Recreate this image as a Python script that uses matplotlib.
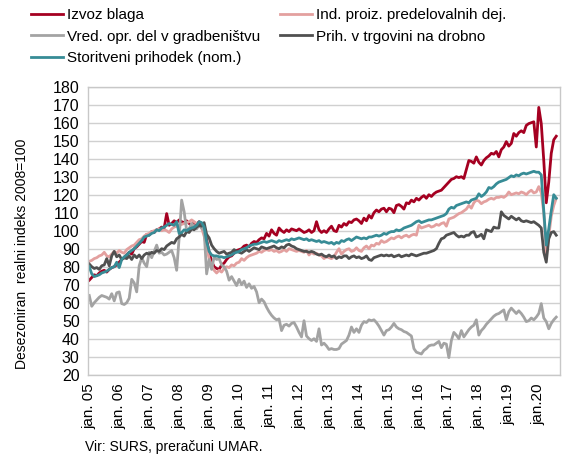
import numpy as np
import matplotlib.pyplot as plt

# monthly values jan 2005 - aug 2020 (2008=100)
izvoz = [
    72.5, 74.0, 75.5, 75.0, 76.5, 77.5, 78.0, 77.0, 78.5, 79.5, 80.0, 81.0,  # 2005
    82.5, 84.0, 85.0, 86.5, 88.0, 87.0, 90.0, 91.0, 92.5, 94.0, 93.5, 98.0,  # 2006
    97.5, 99.5, 99.0, 100.5, 101.0, 102.0, 101.5, 109.5, 103.0, 104.0, 105.5, 104.5,  # 2007
    106.0, 105.0, 104.5, 105.5, 104.0, 103.0, 104.5, 103.5, 105.0, 103.0, 101.5, 95.0,  # 2008
    88.0, 83.0, 80.0, 79.0, 78.5, 81.0, 82.0, 84.0, 85.5, 86.0, 87.5, 89.0,  # 2009
    89.5, 90.0, 91.5, 92.0, 91.0, 93.0, 94.0, 93.5, 95.0, 96.0, 95.5, 98.5,  # 2010
    97.0, 100.5, 98.5, 97.5, 101.5, 100.0, 99.0, 100.5, 99.5, 101.0, 100.5, 100.0,  # 2011
    101.0, 100.0, 99.0, 99.5, 100.5, 99.0, 100.0, 105.0, 100.5, 99.0, 100.0, 99.0,  # 2012
    101.0, 102.5, 100.0, 99.5, 103.0, 102.0, 104.0, 103.0, 105.0, 104.5, 106.0, 106.5,  # 2013
    105.5, 104.0, 107.0, 105.5, 108.5, 107.0, 110.0, 111.5, 110.5, 112.0, 112.5, 110.5,  # 2014
    112.5, 112.0, 110.0, 114.0, 114.5, 113.5, 112.0, 115.5, 115.0, 117.0, 116.0, 118.0,  # 2015
    117.0, 118.5, 119.5, 118.0, 120.0, 119.0, 120.5, 121.5, 122.0, 122.5, 124.0, 125.5,  # 2016
    127.0, 128.5, 129.0, 130.0, 129.5, 130.0, 129.0, 134.0, 139.0, 138.5, 137.5, 141.0,  # 2017
    138.0, 136.5, 139.0, 140.5, 141.5, 143.0, 142.5, 144.0, 141.0, 145.0, 146.5, 149.5,  # 2018
    147.0, 148.5, 154.0, 152.5, 154.5, 155.5, 154.5, 158.5, 159.5, 160.0, 160.5, 146.5,  # 2019
    168.5, 159.5, 139.0, 115.5, 127.0, 143.0, 150.5, 152.5,  # 2020
]

ind_proiz = [
    83.0, 83.5, 84.5, 85.0, 86.0, 86.5, 88.0, 86.0, 85.5, 87.0, 88.5, 87.5,  # 2005
    89.0, 88.0, 87.5, 89.5, 90.5, 91.5, 92.0, 93.5, 95.0, 95.5, 97.0, 98.0,  # 2006
    98.5, 99.5, 100.0, 100.5, 101.0, 100.0, 100.5, 100.0, 99.0, 101.0, 102.0, 102.5,  # 2007
    103.0, 103.5, 104.0, 104.5, 105.0, 106.0, 105.0, 104.0, 103.0, 101.5, 97.0, 91.0,  # 2008
    84.5, 80.5, 78.0, 76.5, 78.0, 77.0, 79.0, 80.0, 79.5, 81.0, 80.5, 82.0,  # 2009
    82.5, 84.5, 83.5, 85.0, 86.0, 86.5, 87.0, 87.5, 88.5, 88.0, 89.0, 89.5,  # 2010
    89.0, 89.5, 88.5, 89.0, 88.0, 88.5, 89.5, 88.5, 90.0, 89.5, 89.0, 88.5,  # 2011
    89.0, 88.5, 88.0, 89.0, 86.5, 88.0, 87.0, 87.5, 86.5, 86.0, 84.5, 85.5,  # 2012
    85.0, 84.5, 85.5, 88.0, 90.0, 87.0, 88.5, 89.5, 90.0, 88.5, 89.0, 90.5,  # 2013
    89.0, 88.5, 90.5, 91.5, 90.0, 92.0, 91.5, 93.0, 92.5, 94.5, 93.5, 94.0,  # 2014
    95.0, 96.0, 95.5, 96.5, 97.0, 96.0, 97.0, 97.5, 96.5, 97.5, 98.0, 97.5,  # 2015
    103.0, 101.5, 102.0, 102.5, 103.0, 102.0, 102.5, 103.5, 103.0, 104.0, 104.5, 102.5,  # 2016
    106.5, 107.0, 107.5, 108.5, 109.5, 110.0, 111.0, 112.0, 114.0, 112.5, 115.5, 117.0,  # 2017
    116.5, 115.0, 116.0, 116.5, 117.5, 118.0, 117.5, 118.5, 118.5, 119.0, 118.5, 119.5,  # 2018
    121.5, 120.0, 120.5, 121.0, 120.5, 121.5, 121.0, 120.0, 121.5, 122.5, 121.0, 121.5,  # 2019
    124.5, 121.0, 110.0, 87.0, 97.0, 108.0, 114.0, 118.0,  # 2020
]

gradbenistvo = [
    64.0, 58.0, 60.0, 61.5, 63.0, 64.0, 63.5, 63.0, 62.0, 65.0, 61.0, 65.5,  # 2005
    66.0, 59.5, 59.0, 60.0, 62.5, 73.0, 71.0, 66.0, 80.5, 85.0, 82.0, 80.0,  # 2006
    88.0, 85.0, 88.5, 92.0, 87.5, 88.0, 86.5, 87.0, 88.0, 89.0, 85.0, 78.0,  # 2007
    96.0, 117.0, 110.5, 100.0, 101.0, 104.0, 102.5, 101.0, 103.0, 101.5, 100.0, 76.0,  # 2008
    84.0, 78.5, 85.5, 84.0, 84.5, 81.0, 80.0, 77.5, 72.5, 74.5, 72.0, 69.5,  # 2009
    73.0, 70.0, 72.0, 68.5, 70.5, 68.0, 69.0, 66.0, 60.0, 62.0, 60.5, 57.5,  # 2010
    55.0, 53.0, 51.5, 50.5, 51.0, 44.5, 47.5, 48.0, 47.0, 48.5, 49.0, 46.5,  # 2011
    43.5, 41.0, 50.0, 41.5, 40.0, 39.0, 40.0, 38.5, 45.5, 36.5, 37.5, 36.0,  # 2012
    34.0, 34.5, 34.0, 34.0, 34.5, 37.0, 38.0, 39.0, 42.0, 46.5, 43.5, 45.5,  # 2013
    43.5, 47.5, 49.5, 49.0, 50.5, 50.0, 50.5, 49.0, 47.0, 44.5, 42.0, 44.5,  # 2014
    45.0, 46.5, 48.5, 46.5, 45.5, 45.0, 44.0, 43.5, 42.5, 41.5, 34.5, 32.5,  # 2015
    32.0, 31.5, 33.5, 34.5, 36.0, 36.5, 36.5, 37.5, 38.5, 35.0, 37.5, 37.0,  # 2016
    29.5, 39.0, 43.5, 42.0, 40.0, 44.5, 41.0, 43.0, 45.0, 46.5, 47.5, 50.5,  # 2017
    42.0, 44.5, 46.0, 48.0, 49.5, 51.0, 52.5, 53.5, 54.0, 55.0, 56.0, 50.5,  # 2018
    55.0, 57.0, 55.5, 54.0, 55.5, 54.0, 52.0, 49.5, 50.0, 51.5, 50.5, 52.0,  # 2019
    54.0, 59.5, 51.5, 49.5, 45.5, 48.5, 50.5, 52.0,  # 2020
]

trgovina = [
    81.5, 80.0, 79.0, 79.5, 78.5, 80.5, 81.0, 84.5, 80.5, 86.0, 88.5, 85.5,  # 2005
    86.5, 84.0, 85.0, 84.5, 86.0, 84.0, 86.5, 85.0, 86.5, 84.5, 86.5, 87.5,  # 2006
    87.0, 88.0, 87.5, 89.0, 88.5, 90.0, 89.5, 91.5, 92.5, 93.5, 93.0, 95.5,  # 2007
    96.5, 98.0, 97.0, 99.5, 99.0, 101.0, 100.5, 102.0, 103.0, 102.5, 104.5, 98.0,  # 2008
    96.0, 92.0, 90.0, 88.5, 87.5, 88.0, 88.5, 87.0, 87.5, 88.0, 89.5, 88.5,  # 2009
    88.0, 87.5, 88.5, 89.5, 88.5, 89.5, 90.5, 90.0, 89.5, 91.0, 90.5, 90.0,  # 2010
    90.5, 91.0, 91.5, 90.5, 90.0, 91.0, 90.5, 92.0, 92.5, 91.5, 91.0, 90.0,  # 2011
    89.5, 89.0, 88.5, 88.5, 88.0, 88.5, 88.0, 87.0, 86.5, 87.0, 86.0, 85.5,  # 2012
    86.5, 85.5, 86.0, 84.5, 85.5, 85.0, 86.0, 86.0, 84.5, 85.5, 86.0, 85.0,  # 2013
    85.5, 84.5, 85.0, 86.0, 84.0, 83.5, 85.0, 85.5, 86.0, 86.5, 86.0, 86.5,  # 2014
    86.0, 86.5, 85.5, 86.0, 86.5, 85.5, 86.0, 86.5, 86.0, 87.0, 86.5, 86.0,  # 2015
    86.5, 87.0, 87.5, 87.5, 88.0, 88.5, 89.0, 90.0, 93.0, 95.5, 96.0, 97.5,  # 2016
    98.0, 98.5, 99.0, 97.5, 96.5, 97.0, 96.5, 97.5, 97.5, 99.0, 99.5, 96.5,  # 2017
    97.0, 98.0, 95.5, 100.5, 100.0, 99.5, 102.0, 101.5, 101.5, 110.5, 108.5, 107.5,  # 2018
    106.5, 108.0, 107.0, 106.0, 107.0, 105.5, 105.0, 105.5, 105.0, 104.5, 105.0, 104.0,  # 2019
    103.0, 101.5, 88.0, 82.5, 95.5, 99.0, 99.5, 97.5,  # 2020
]

storitve = [
    80.0, 76.0, 74.5, 75.0, 75.5, 76.5, 77.0, 77.5, 78.5, 79.5, 80.0, 82.5,  # 2005
    79.5, 84.0, 85.5, 86.5, 88.0, 89.0, 90.0, 91.5, 93.0, 94.5, 96.5, 97.0,  # 2006
    97.5, 98.5, 99.0, 100.5, 100.0, 101.5, 102.0, 103.0, 104.0, 103.5, 103.0, 105.0,  # 2007
    98.5, 99.0, 100.5, 100.0, 101.0, 101.5, 102.0, 103.0, 105.0, 104.5, 102.0, 94.0,  # 2008
    88.5, 86.5, 86.0, 86.0, 85.5, 85.5, 85.0, 85.5, 86.0, 86.5, 87.5, 88.0,  # 2009
    88.5, 89.5, 90.0, 90.5, 91.5, 92.0, 92.5, 92.5, 93.0, 93.5, 94.0, 93.5,  # 2010
    94.0, 94.5, 94.0, 93.5, 94.5, 94.0, 94.5, 95.0, 94.5, 95.5, 95.0, 95.5,  # 2011
    96.0, 95.5, 95.0, 95.5, 94.5, 95.0, 94.5, 94.0, 94.5, 93.5, 94.0, 93.5,  # 2012
    93.0, 93.5, 92.5, 93.5, 93.0, 94.5, 94.0, 95.0, 95.5, 94.5, 95.5, 96.5,  # 2013
    96.0, 95.5, 96.0, 95.5, 96.5, 96.5, 97.0, 97.5, 97.0, 97.5, 98.5, 98.0,  # 2014
    99.0, 99.5, 99.5, 100.5, 100.0, 100.5, 101.5, 102.0, 102.5, 103.0, 104.0, 105.0,  # 2015
    105.5, 104.5, 105.0, 105.5, 106.0, 106.0, 106.5, 107.0, 107.5, 108.0, 108.5, 109.5,  # 2016
    112.0, 113.0, 112.5, 114.0, 114.5, 115.0, 115.5, 116.0, 115.5, 117.0, 117.5, 118.0,  # 2017
    120.5, 119.0, 120.0, 121.5, 124.0, 123.5, 124.5, 126.0, 127.0, 127.5, 128.0, 128.5,  # 2018
    129.5, 130.5, 130.0, 131.0, 130.5, 131.5, 132.0, 131.5, 132.0, 132.5, 133.0, 132.5,  # 2019
    132.5, 131.0, 111.0, 92.0, 101.0, 111.0, 120.0, 118.0,  # 2020
]

tick_labels = ['jan. 05', 'jan. 06', 'jan. 07', 'jan. 08', 'jan. 09', 'jan. 10',
               'jan. 11', 'jan. 12', 'jan. 13', 'jan. 14', 'jan. 15', 'jan. 16',
               'jan. 17', 'jan. 18', 'jan.19', 'jan.20']

plt.rcParams['font.family'] = ['Liberation Sans', 'DejaVu Sans']

W, H = 569, 459
fig = plt.figure(figsize=(W / 100, H / 100), dpi=100)
ax = fig.add_axes([88 / W, 1 - 374.7 / H, (560 - 88) / W, (374.7 - 86.7) / H])

x = np.arange(len(izvoz))
lw = 2.0
l1, = ax.plot(x, izvoz, color='#a50021', lw=lw, label='Izvoz blaga')
l2, = ax.plot(x, ind_proiz, color='#e3a09f', lw=lw, label='Ind. proiz. predelovalnih dej.')
l3, = ax.plot(x, gradbenistvo, color='#a3a3a3', lw=lw, label='Vred. opr. del v gradbeništvu')
l4, = ax.plot(x, trgovina, color='#505050', lw=lw, label='Prih. v trgovini na drobno')
l5, = ax.plot(x, storitve, color='#378c96', lw=lw, label='Storitveni prihodek (nom.)')

ax.set_xlim(-0.5, 188.5)
ax.set_ylim(20, 180)
ax.set_yticks(range(20, 181, 10))
ax.set_xticks(np.arange(0, 181, 12))
ax.set_xticklabels(tick_labels, rotation=90)
ax.tick_params(length=0, labelsize=11, pad=6)
ax.tick_params(axis='y', labelsize=11.5)
ax.grid(axis='y', color='#d0d0d0', lw=1.0)
ax.set_axisbelow(True)
for s in ax.spines.values():
    s.set_color('#c8c8c8')
    s.set_linewidth(1.0)

fig.text(22 / W, 1 - 254 / H, 'Desezoniran  realni indeks 2008=100',
         rotation=90, fontsize=10, ha='center', va='center')

order = [l1, l3, l5, l2, l4]
fig.legend(order, [h.get_label() for h in order],
           loc='upper left', bbox_to_anchor=(31 / W, 1 - 8 / H), ncol=2,
           frameon=False, fontsize=11, handlelength=2.1, handletextpad=0.25,
           columnspacing=1.3, labelspacing=0.5, borderpad=0, borderaxespad=0)

fig.text(85 / W, 1 - 447 / H, 'Vir: SURS, preračuni UMAR.', fontsize=10, va='center')

fig.savefig('out.png', dpi=100)
